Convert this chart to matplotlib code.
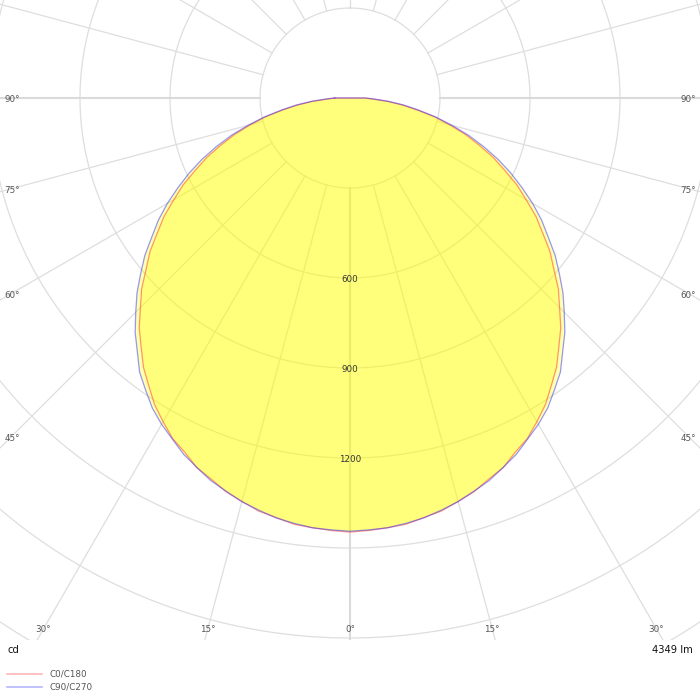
import numpy as np
import matplotlib
matplotlib.use("Agg")
import matplotlib.pyplot as plt
from matplotlib.lines import Line2D

# ---- data (cd) ----
angles = [0, 2.5, 5, 7.5, 10, 12.5, 15, 17.5, 20, 22.5, 25, 27.5, 30, 32.5, 35, 37.5,
          40, 42.5, 45, 47.5, 50, 52.5, 55, 57.5, 60, 62.5, 65, 67.5, 70, 72.5, 75,
          77.5, 80, 82.5, 85, 87.5, 90]
c0_c180 = [1447, 1443, 1438, 1433, 1420, 1410, 1392, 1376, 1352, 1334, 1303, 1280,
           1246, 1212, 1170, 1131, 1083, 1040, 988, 942, 887, 840, 784, 735,
           678, 627, 568, 516, 457, 403, 343, 287, 226, 174, 124, 76, 50]
c90_c270 = [1444, 1441, 1438, 1430, 1421, 1407, 1393, 1374, 1357, 1333, 1311, 1282,
            1256, 1226, 1188, 1152, 1103, 1060, 1010, 963, 911, 862, 806, 757,
            703, 646, 591, 534, 474, 415, 352, 293, 232, 181, 129, 79, 52]
series_names = ["C0/C180", "C90/C270"]
ring_values = [300, 600, 900, 1200, 1500, 1800, 2100, 2400]
ring_labels = [600, 900, 1200]
angle_ticks = [0, 15, 30, 45, 60, 75, 90]
unit_text = "cd"
flux_text = "4349 lm"

PX = 0.3  # pixels per cd
W, H = 700, 700
plot_bottom_px = 640
cy_px = 98  # centre height from top

fig = plt.figure(figsize=(W / 100, H / 100), dpi=100)
ax = fig.add_axes([0, (H - plot_bottom_px) / H, 1, plot_bottom_px / H])
ax.set_xlim(-350 / PX, 350 / PX)
ax.set_ylim(-(plot_bottom_px - cy_px) / PX, cy_px / PX)
ax.axis("off")

grid_c = "#dedede"
t = np.linspace(0, 2 * np.pi, 1441)
for r in ring_values:
    ax.plot(r * np.sin(t), r * np.cos(t), color=grid_c, lw=0.9, zorder=1)
for a in range(0, 360, 15):
    ar = np.radians(a)
    rr = np.array([ring_values[0], 6000])
    main = a % 90 == 0 and a != 180
    ax.plot(rr * np.sin(ar), -rr * np.cos(ar), color="#dadada" if main else grid_c,
            lw=1.5 if main else 0.9, zorder=1)


def curve(vals):
    a = np.radians(np.array(angles, dtype=float))
    v = np.array(vals, dtype=float)
    th = np.concatenate([-a[::-1], a[1:]])
    iv = np.concatenate([v[::-1], v[1:]])
    return iv * np.sin(th), -iv * np.cos(th)


for vals in (c0_c180, c90_c270):
    x, y = curve(vals)
    ax.fill(x, y, color="#ffff00", alpha=0.3, lw=0, zorder=2)
colors = ["#ff3030", "#3030ff"]
for vals, c in zip((c0_c180, c90_c270), colors):
    x, y = curve(vals)
    ax.plot(np.append(x, x[0]), np.append(y, y[0]), color=c, alpha=0.5, lw=0.9, zorder=3)

# ring labels
for r in ring_labels:
    ax.text(0, -r - 2 / PX, str(r), ha="center", va="center", fontsize=6.3,
            color="#333333", zorder=4)

# angle labels
for a in angle_ticks:
    ar = np.radians(a)
    if a <= 30:
        yd = -(629 - cy_px) / PX
        xd = abs(yd) * np.tan(ar)
        pts = [(xd, yd)] if a == 0 else [(-xd, yd), (xd, yd)]
    else:
        xd = 338 / PX
        yd = -xd / np.tan(ar) if a != 90 else 0.0
        yd -= 2 / PX
        pts = [(-xd, yd), (xd, yd)]
    for px_, py_ in pts:
        ax.text(px_, py_, f"{a}°", ha="center", va="center", fontsize=6.3,
                color="#555555", zorder=4)

# bottom texts
fig.text(8 / W, 1 - 650 / H, unit_text, ha="left", va="center", fontsize=7.2, color="#111111")
fig.text(693 / W, 1 - 650 / H, flux_text, ha="right", va="center", fontsize=7.2, color="#111111")
for i, (name, c) in enumerate(zip(series_names, colors)):
    yy = 1 - (674 + 13 * i) / H
    fig.add_artist(Line2D([7 / W, 42 / W], [yy, yy], color=c, alpha=0.35, lw=1.2,
                          transform=fig.transFigure))
    fig.text(49 / W, yy, name, ha="left", va="center", fontsize=6.3, color="#555555")

fig.savefig("out.png", dpi=100)
